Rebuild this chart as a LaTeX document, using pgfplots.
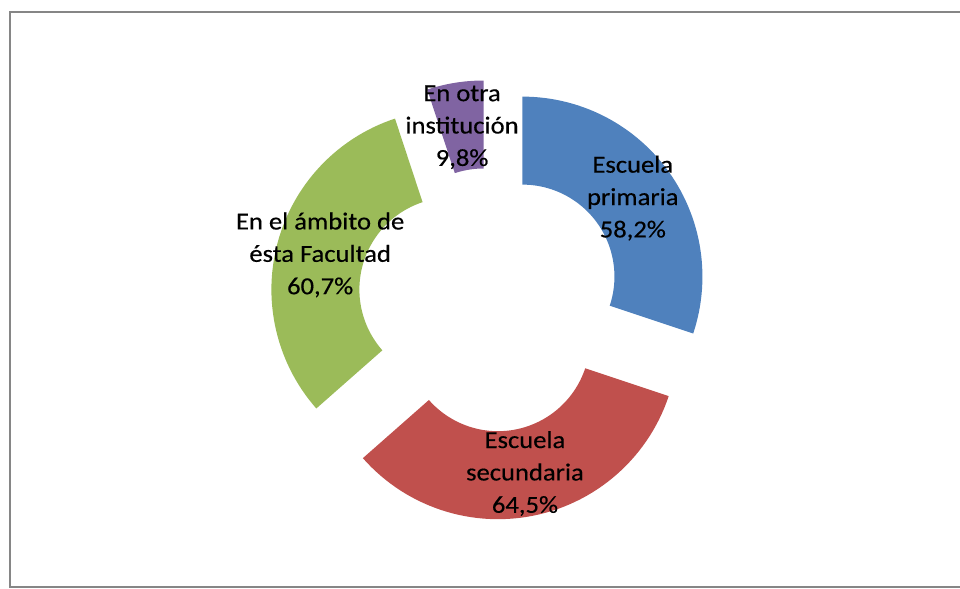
\documentclass[border=0pt]{standalone}
\usepackage{fontspec}
\setmainfont[FakeStretch=1.09,FakeBold=0.4]{Carlito}
\usepackage{pgfplots}
\usepackage{pgfplotstable}
\pgfplotsset{compat=1.18}

\definecolor{cBlue}{HTML}{4F81BD}
\definecolor{cRed}{HTML}{C0504D}
\definecolor{cGreen}{HTML}{9BBB59}
\definecolor{cPurple}{HTML}{8064A2}
\definecolor{cFrame}{HTML}{868686}

% shares (%), clockwise from 12 o'clock
\pgfplotstableread{
value
58.2
64.5
60.7
9.8
}\ringdata

% ring geometry in picture units (bp)
\def\cx{490}\def\cy{289}\def\Ro{180}\def\Ri{92}\def\ex{40}
\def\hh{0.0166667}

\newcommand\getval[2]{\pgfplotstablegetelem{#1}{value}\of\ringdata\global\let#2\pgfplotsretval}

\getval{0}\va\getval{1}\vb\getval{2}\vc\getval{3}\vd
\pgfmathsetmacro\tot{\va+\vb+\vc+\vd}
\pgfmathsetmacro\aA{90}
\pgfmathsetmacro\aB{\aA-360*(\va/\tot)}
\pgfmathsetmacro\aC{\aB-360*(\vb/\tot)}
\pgfmathsetmacro\aD{\aC-360*(\vc/\tot)}
\pgfmathsetmacro\aE{\aD-360*(\vd/\tot)}

% #1 start angle, #2 end angle, #3 colour, #4 label
\newcommand\ring[4]{%
  \pgfmathsetmacro\m{(#1+#2)/2}%
  \addplot[fill=#3, draw=none, domain=0:2, samples=121, variable=\t]
    ({\cx+\ex*cos(\m)+(\t<1+\hh/2 ? \Ro : \Ri)*cos(\t<1+\hh/2 ? #1+(#2-#1)*\t : #2+(#1-#2)*(\t-1-\hh)/(1-\hh))},
     {\cy+\ex*sin(\m)+(\t<1+\hh/2 ? \Ro : \Ri)*sin(\t<1+\hh/2 ? #1+(#2-#1)*\t : #2+(#1-#2)*(\t-1-\hh)/(1-\hh))});
  \pgfmathsetmacro\lx{\cx+(\ex+(\Ro+\Ri)/2)*cos(\m)}%
  \pgfmathsetmacro\ly{\cy+(\ex+(\Ro+\Ri)/2)*sin(\m)-1}%
  \edef\tmp{\noexpand\node[lbl] at (axis cs:\lx,\ly)}\tmp{#4};
}

\newcommand\pct[1]{\pgfmathprintnumber[fixed,precision=1,fixed zerofill,use comma,assume math mode=true]{#1}\%}

\tikzset{lbl/.style={align=center, anchor=center, inner sep=0pt,
  font=\fontsize{24.5}{32.5}\selectfont}}

\begin{document}
\begin{tikzpicture}
  \path[use as bounding box] (0,0) rectangle (960bp,589bp);
  \begin{axis}[
      at={(0,0)}, anchor=south west,
      scale only axis, width=960bp, height=589bp,
      xmin=0, xmax=960, ymin=0, ymax=589,
      hide axis, clip=false
    ]
    \draw[cFrame, line width=1.6bp] (axis cs:960,2) -- (axis cs:10,2)
      -- (axis cs:10,577) -- (axis cs:960,577);
    \ring{\aA}{\aB}{cBlue}{Escuela\\primaria\\\pct{\va}}
    \ring{\aB}{\aC}{cRed}{Escuela\\secundaria\\\pct{\vb}}
    \ring{\aC}{\aD}{cGreen}{En el ámbito de\\ésta Facultad\\\pct{\vc}}
    \ring{\aD}{\aE}{cPurple}{En otra\\institución\\\pct{\vd}}
  \end{axis}
\end{tikzpicture}
\end{document}
